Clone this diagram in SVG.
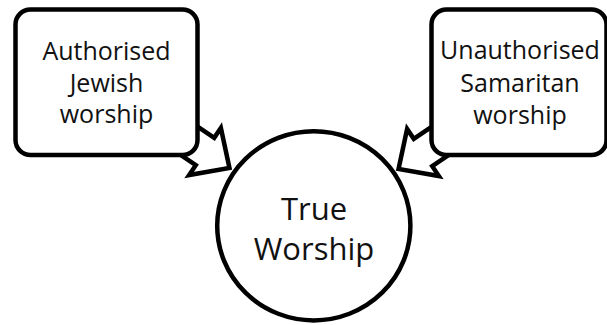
<svg xmlns="http://www.w3.org/2000/svg" width="607" height="325" viewBox="0 0 607 325">
  <style>
    .shape { fill: #ffffff; stroke: #000000; stroke-width: 4.5; stroke-linejoin: miter; }
    .box { fill: #ffffff; stroke: #000000; stroke-width: 4.5; }
    .lbl { font-family: "Open Sans", "Noto Sans", sans-serif; fill: #111111; text-anchor: middle; }
    .small { font-size: 25px; }
    .big { font-size: 31px; }
  </style>
  <defs>
    <path id="blockArrow" d="M -45,-16.5 L 0,-16.5 L 0,-28.4 L 29.5,0 L 0,28.4 L 0,16.5 L -45,16.5 Z"/>
  </defs>
  <rect width="607" height="325" fill="#ffffff"/>
  <g id="connectors">
    <use href="#blockArrow" class="shape" transform="translate(205,151.5) rotate(34)"/>
    <use href="#blockArrow" class="shape" transform="translate(423,152.5) scale(-1,1) rotate(34)"/>
  </g>
  <g id="node-jewish">
    <rect class="box" x="15.5" y="9.5" width="182" height="145.5" rx="15" ry="15"/>
    <text class="lbl small" x="106.5" y="60">Authorised</text>
    <text class="lbl small" x="106.5" y="91.5">Jewish</text>
    <text class="lbl small" x="106.5" y="123">worship</text>
  </g>
  <g id="node-samaritan">
    <rect class="box" x="431.5" y="9.5" width="175" height="145.5" rx="15" ry="15"/>
    <text class="lbl small" x="520" y="59">Unauthorised</text>
    <text class="lbl small" x="520" y="91.5">Samaritan</text>
    <text class="lbl small" x="520" y="124">worship</text>
  </g>
  <g id="node-true">
    <ellipse class="box" cx="313.8" cy="225.8" rx="96.6" ry="94.6"/>
    <text class="lbl big" x="314" y="220">True</text>
    <text class="lbl big" x="314" y="260">Worship</text>
  </g>
</svg>
